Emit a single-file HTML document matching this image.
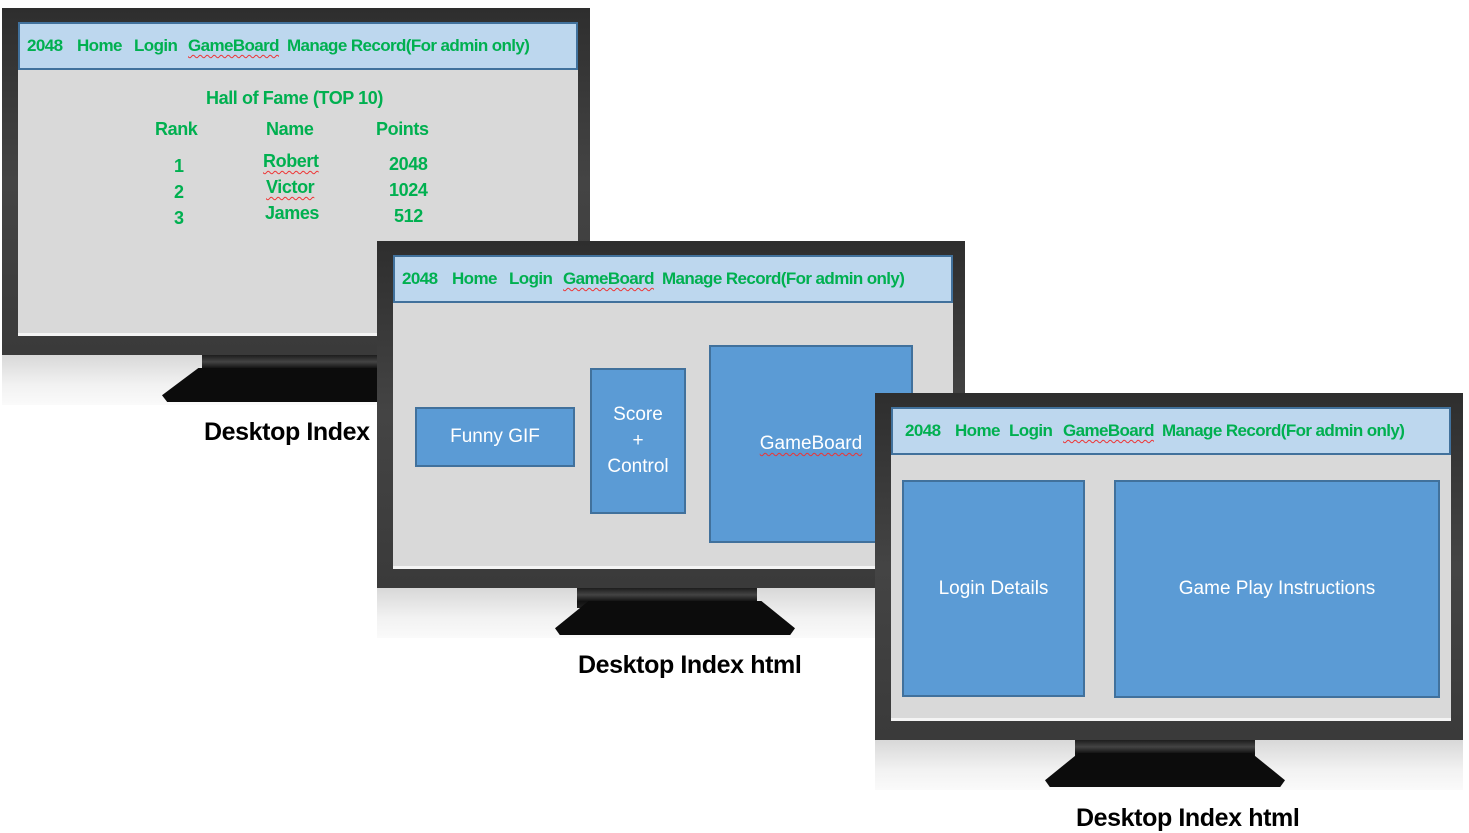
<!DOCTYPE html>
<html><head><meta charset="utf-8"><style>
body{margin:0;width:1469px;height:833px;background:#fff;position:relative;overflow:hidden;font-family:"Liberation Sans",sans-serif}
.a{position:absolute}
.mon{position:absolute;width:588px;height:397px}
.floor{position:absolute;left:0;top:347px;width:588px;height:50px;background:linear-gradient(#d8d8d8,#f2f2f2 60%,#fafafa)}
.bez{position:absolute;left:0;top:0;width:588px;height:347px;background:linear-gradient(#2e2e2e,#444 50%,#3a3a3a);}
.neck{position:absolute;left:200px;top:345px;width:180px;height:22px;background:linear-gradient(#111,#444 40%,#111 70%,#222)}
.base{position:absolute;left:160px;top:360px;width:260px;height:34px;background:#0c0c0c;clip-path:polygon(14% 0,86% 0,100% 80%,98% 100%,2% 100%,0 80%)}
.scr{position:absolute;left:16px;top:14px;width:560px;height:311px;background:#d9d9d9;border-bottom:3px solid #f4f4f4}
.nav{position:absolute;left:0;top:0;width:556px;height:44px;background:#bdd7ee;border:2px solid #41719c}
.nav span{position:absolute;top:12px;color:#00b050;font-weight:bold;font-size:17px;letter-spacing:-0.6px;white-space:nowrap}
.u{text-decoration:underline wavy #e33;text-decoration-thickness:1px;text-underline-offset:3px}
.box{position:absolute;background:#5b9bd5;border:2px solid #41719c;color:#fff;font-size:19px;display:flex;align-items:center;justify-content:center;text-align:center;box-sizing:border-box;line-height:26px}
.g{position:absolute;color:#00b050;font-weight:bold;font-size:18px;letter-spacing:-0.4px;white-space:nowrap}
.lbl{position:absolute;font-weight:bold;font-size:25px;color:#000;white-space:nowrap;letter-spacing:-0.4px}
</style></head><body>

<!-- Monitor 1 -->
<div class="mon" style="left:2px;top:8px">
 <div class="floor"></div><div class="neck"></div><div class="base"></div>
 <div class="bez"></div>
 <div class="scr">
  <div class="nav">
   <span style="left:7px">2048</span><span style="left:57px">Home</span><span style="left:114px">Login</span><span class="u" style="left:168px">GameBoard</span><span style="left:267px">Manage Record(For admin only)</span>
  </div>
  <div class="g" style="left:188px;top:66px">Hall of Fame (TOP 10)</div>
  <div class="g" style="left:137px;top:97px">Rank</div>
  <div class="g" style="left:248px;top:97px">Name</div>
  <div class="g" style="left:358px;top:97px">Points</div>
  <div class="g" style="left:156px;top:134px">1</div>
  <div class="g" style="left:156px;top:160px">2</div>
  <div class="g" style="left:156px;top:186px">3</div>
  <div class="g u" style="left:245px;top:129px">Robert</div>
  <div class="g u" style="left:248px;top:155px">Victor</div>
  <div class="g" style="left:247px;top:181px">James</div>
  <div class="g" style="left:371px;top:132px">2048</div>
  <div class="g" style="left:371px;top:158px">1024</div>
  <div class="g" style="left:376px;top:184px">512</div>
 </div>
</div>
<div class="lbl" style="left:204px;top:418px">Desktop Index html</div>

<!-- Monitor 2 -->
<div class="mon" style="left:377px;top:241px">
 <div class="floor"></div><div class="neck"></div><div class="base" style="left:178px;width:240px"></div>
 <div class="bez"></div>
 <div class="scr">
  <div class="nav">
   <span style="left:7px">2048</span><span style="left:57px">Home</span><span style="left:114px">Login</span><span class="u" style="left:168px">GameBoard</span><span style="left:267px">Manage Record(For admin only)</span>
  </div>
  <div class="box" style="left:22px;top:152px;width:160px;height:60px">Funny GIF</div>
  <div class="box" style="left:197px;top:113px;width:96px;height:146px">Score<br>+<br>Control</div>
  <div class="box" style="left:316px;top:90px;width:204px;height:198px"><span class="u" style="text-decoration-color:#e33">GameBoard</span></div>
 </div>
</div>
<div class="lbl" style="left:578px;top:651px">Desktop Index html</div>

<!-- Monitor 3 -->
<div class="mon" style="left:875px;top:393px">
 <div class="floor"></div><div class="neck"></div><div class="base" style="left:170px;width:240px"></div>
 <div class="bez"></div>
 <div class="scr">
  <div class="nav">
   <span style="left:12px">2048</span><span style="left:62px">Home</span><span style="left:116px">Login</span><span class="u" style="left:170px">GameBoard</span><span style="left:269px">Manage Record(For admin only)</span>
  </div>
  <div class="box" style="left:11px;top:73px;width:183px;height:217px">Login Details</div>
  <div class="box" style="left:223px;top:73px;width:326px;height:218px">Game Play Instructions</div>
 </div>
</div>
<div class="lbl" style="left:1076px;top:804px">Desktop Index html</div>

</body></html>
